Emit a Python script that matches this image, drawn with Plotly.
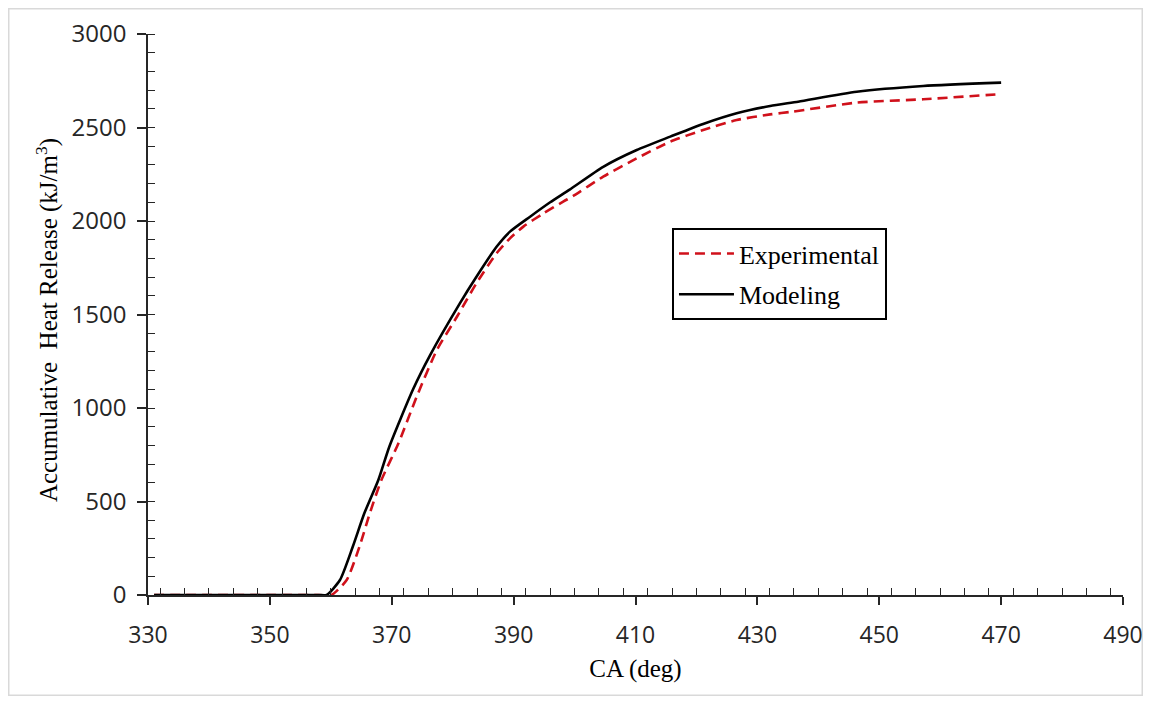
import plotly.graph_objects as go

# Experimental (red dashed)
exp_ca = [331, 340, 350, 358, 360.1, 362.6, 364.7, 366.4, 368.3, 371.1, 374.1, 377.4, 380.7,
          383.9, 387.2, 389.4, 391.6, 394.9, 398.2, 399.7, 404.7, 410.2, 415.7, 421.1, 426.6,
          432.1, 435.6, 446.3, 457.2, 470]
exp_hr = [0, 0, 0, 0, 0, 80, 258, 437, 615, 811, 1061, 1310, 1488,
          1667, 1827, 1907, 1970, 2041, 2105, 2132, 2237, 2335, 2424, 2487, 2540,
          2570, 2584, 2633, 2651, 2679]

# Modeling (black solid)
mod_ca = [331, 340, 350, 358, 359.3, 361.5, 363.6, 365.5, 367.8, 369.6, 373.5, 376.3, 381.2,
          383.9, 387.2, 389.4, 392.7, 396, 399.2, 404.7, 410.2, 415.7, 421.1, 426.6, 432.1,
          436.7, 446.3, 457.2, 470]
mod_hr = [0, 0, 0, 0, 0, 80, 258, 437, 615, 793, 1100, 1283, 1561,
          1702, 1862, 1943, 2023, 2100, 2168, 2290, 2380, 2451, 2519, 2576, 2615,
          2638, 2691, 2722, 2740]

x_range = [330, 490]
y_range = [0, 3000]

SERIF = "Liberation Serif, Times New Roman, serif"
SANS = "Open Sans, Noto Sans, sans-serif"
AXC = "#262626"

# figure sized so that, with the page's 8px body margin, it fills the 1151x704 window
W, H = 1135, 688
ML, MR, MT, MB = 140, 20, 26, 101
PW, PH = W - ML - MR, H - MT - MB

fig = go.Figure()
fig.add_trace(go.Scatter(x=exp_ca, y=exp_hr, mode="lines", name="Experimental",
                         legendgroup="a",
                         line=dict(color="#D0111B", width=2.6, dash="10px,6px", shape="spline",
                                   smoothing=0.6)))
fig.add_trace(go.Scatter(x=mod_ca, y=mod_hr, mode="lines", name="Modeling",
                         legendgroup="b",
                         line=dict(color="black", width=2.6, shape="spline", smoothing=0.6)))

common_x = dict(range=x_range, showgrid=False, zeroline=False, automargin=False)
common_y = dict(range=y_range, showgrid=False, zeroline=False, automargin=False)

fig.update_layout(
    width=W, height=H,
    margin=dict(l=ML, r=MR, t=MT, b=MB, pad=0, autoexpand=False),
    paper_bgcolor="white", plot_bgcolor="white",
    showlegend=True,
    legend=dict(x=0.5374, y=0.654, xanchor="left", yanchor="top",
                bordercolor="black", borderwidth=2, bgcolor="white",
                font=dict(family=SERIF, size=26, color="black"),
                traceorder="grouped", tracegroupgap=4,
                itemwidth=55),
    xaxis=dict(**common_x, showline=True, linecolor=AXC, linewidth=1.5,
               tickmode="linear", tick0=330, dtick=20, ticks="outside", ticklen=8,
               tickwidth=1.5, tickcolor=AXC,
               minor=dict(dtick=4, ticks="inside", ticklen=7, tickwidth=1.3, tickcolor=AXC),
               tickfont=dict(family=SANS, size=23, color=AXC),
               ticklabelstandoff=11,
               title=dict(text="CA (deg)", font=dict(family=SERIF, size=25, color="black"),
                          standoff=10)),
    yaxis=dict(**common_y, showline=True, linecolor=AXC, linewidth=1.5,
               tickmode="linear", tick0=0, dtick=500, ticks="outside", ticklen=9,
               tickwidth=1.5, tickcolor=AXC,
               minor=dict(dtick=100, ticks="inside", ticklen=7, tickwidth=1.3, tickcolor=AXC),
               tickfont=dict(family=SANS, size=24, color=AXC),
               ticklabelstandoff=6),
    xaxis2=dict(**common_x, overlaying="x", anchor="y", side="bottom", showline=False,
                tickmode="linear", tick0=330, dtick=20, ticks="inside", ticklen=7,
                tickwidth=1.5, tickcolor=AXC, showticklabels=False),
    yaxis2=dict(**common_y, overlaying="y", anchor="x", side="left", showline=False,
                tickmode="linear", tick0=0, dtick=500, ticks="inside", ticklen=7,
                tickwidth=1.5, tickcolor=AXC, showticklabels=False),
    annotations=[dict(text="Accumulative\u00a0 Heat Release (kJ/m<sup>3</sup>)",
                      xref="paper", yref="paper", x=-0.1036, y=0.49,
                      xanchor="center", yanchor="middle", textangle=-90, showarrow=False,
                      font=dict(family=SERIF, size=25, color="black"))],
    shapes=[dict(type="rect", xref="paper", yref="paper",
                 x0=(0.75 - ML) / PW, x1=(W - 0.75 - ML) / PW,
                 y0=(PH + MT - (H - 0.75)) / PH, y1=(PH + MT - 0.75) / PH,
                 line=dict(color="#d9d9d9", width=1.5), layer="below")],
)

fig.write_html("out.html")
